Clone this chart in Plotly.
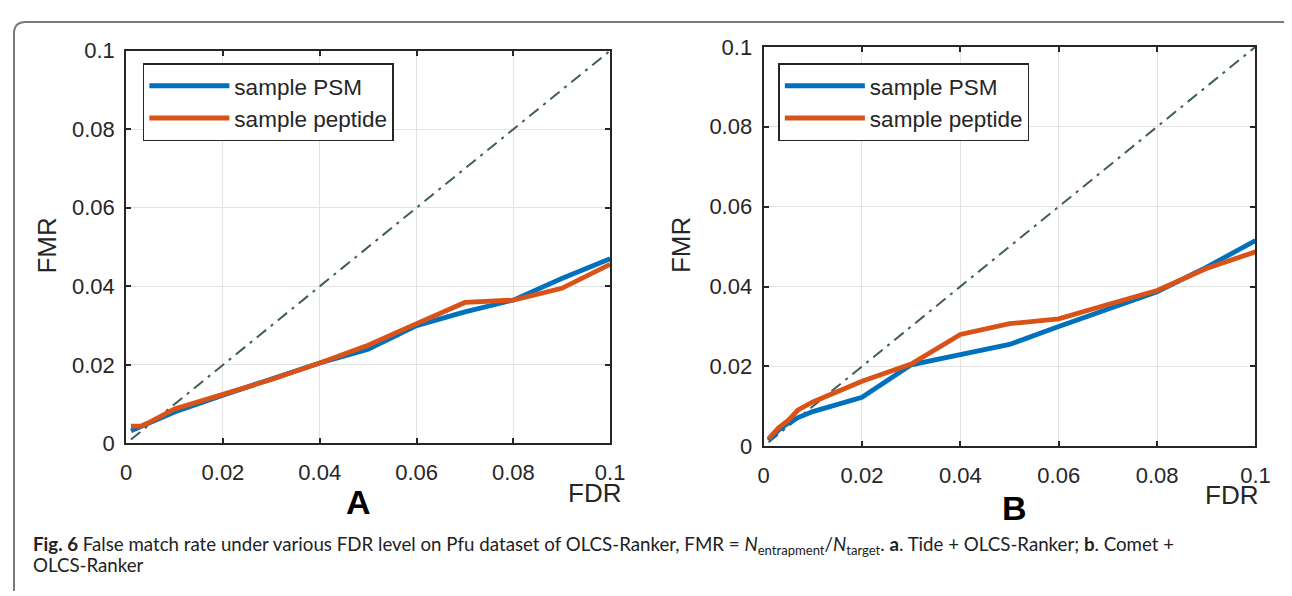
import plotly.graph_objects as go

W, H = 1292, 596
OFF = 8  # page body margin of the html page

# ---------------- data ----------------
fdr_a = [0.001, 0.003, 0.005, 0.01, 0.02, 0.03, 0.04, 0.05, 0.06, 0.07, 0.08, 0.09, 0.1]
psm_a = [0.0032, 0.0042, 0.0055, 0.0080, 0.0123, 0.0165, 0.0205, 0.0240, 0.0300, 0.0335, 0.0365, 0.0420, 0.0470]
pep_a = [0.0044, 0.0044, 0.0055, 0.0088, 0.0125, 0.0163, 0.0205, 0.0250, 0.0305, 0.0359, 0.0365, 0.0395, 0.0456]

fdr_b = [0.001, 0.003, 0.005, 0.007, 0.01, 0.02, 0.03, 0.04, 0.05, 0.06, 0.07, 0.08, 0.09, 0.1]
psm_b = [0.0015, 0.0040, 0.0058, 0.0072, 0.0087, 0.0123, 0.0204, 0.0231, 0.0255, 0.0300, 0.0345, 0.0387, 0.0448, 0.0515]
pep_b = [0.0019, 0.0046, 0.0065, 0.0091, 0.0111, 0.0163, 0.0206, 0.0280, 0.0307, 0.0319, 0.0355, 0.0390, 0.0445, 0.0487]

ref_x = [0.001, 0.1]
ref_y = [0.001, 0.1]

tick_vals = [0, 0.02, 0.04, 0.06, 0.08, 0.1]
tick_text = ["0", "0.02", "0.04", "0.06", "0.08", "0.1"]

series_names = ["sample PSM", "sample peptide"]
panel_labels = ["A", "B"]

BLUE = "#0072BD"
ORANGE = "#D95319"
DIAG = "#3E5E57"
AXC = "#262626"
FONT = "Liberation Sans, Arial, sans-serif"


def px(x):
    return (x - OFF) / W


def py(y):
    return 1 - (y - OFF) / H


fig = go.Figure()

panels = [
    (fdr_a, psm_a, pep_a, "x", "y", "legend"),
    (fdr_b, psm_b, pep_b, "x2", "y2", "legend2"),
]
for fdr, psm, pep, xa, ya, lg in panels:
    fig.add_trace(go.Scatter(x=ref_x, y=ref_y, mode="lines", xaxis=xa, yaxis=ya,
                             line=dict(color=DIAG, width=2, dash="12px,6px,3px,6px"),
                             showlegend=False, hoverinfo="skip"))
    fig.add_trace(go.Scatter(x=fdr, y=psm, mode="lines", name=series_names[0], xaxis=xa, yaxis=ya,
                             line=dict(color=BLUE, width=4.8), legend=lg))
    fig.add_trace(go.Scatter(x=fdr, y=pep, mode="lines", name=series_names[1], xaxis=xa, yaxis=ya,
                             line=dict(color=ORANGE, width=4.8), legend=lg))

axis_common = dict(
    range=[0, 0.1], tickvals=tick_vals, ticktext=tick_text,
    showgrid=True, gridcolor="#E3E3E3", gridwidth=1,
    showline=True, linecolor=AXC, linewidth=2, mirror="ticks",
    ticks="inside", ticklen=5, tickwidth=1.5, tickcolor=AXC,
    zeroline=False, tickfont=dict(family=FONT, size=22, color=AXC),
    fixedrange=True,
)

dom_ax = [px(122), px(614)]
dom_ay = [py(450), py(40)]
dom_bx = [px(770), px(1270)]
dom_by = [py(453), py(36)]

legend_common = dict(xanchor="left", yanchor="top", bordercolor=AXC, borderwidth=1.5,
                     bgcolor="white", font=dict(family=FONT, size=22.5, color=AXC),
                     itemwidth=80, tracegroupgap=0)

fig.update_layout(
    width=W, height=H, autosize=False,
    margin=dict(l=0, r=0, t=0, b=0),
    paper_bgcolor="white", plot_bgcolor="white",
    xaxis=dict(domain=dom_ax, anchor="y", ticklabelstandoff=8, **axis_common),
    yaxis=dict(domain=dom_ay, anchor="x", ticklabelstandoff=5, **axis_common),
    xaxis2=dict(domain=dom_bx, anchor="y2", ticklabelstandoff=8, **axis_common),
    yaxis2=dict(domain=dom_by, anchor="x2", ticklabelstandoff=5, **axis_common),
    legend=dict(x=px(139), y=py(53), **legend_common),
    legend2=dict(x=px(785), y=py(53), **legend_common),
    showlegend=True,
)

annots = []
# FMR labels
for xx in (42, 686):
    annots.append(dict(x=px(xx), y=py(243), xref="paper", yref="paper", text="FMR",
                       textangle=-90, showarrow=False, xanchor="center", yanchor="middle",
                       font=dict(family=FONT, size=26, color=AXC)))
# FDR labels
for xx, yy in ((598, 502), (1246, 504)):
    annots.append(dict(x=px(xx), y=py(yy), xref="paper", yref="paper", text="FDR",
                       showarrow=False, xanchor="center", yanchor="middle",
                       font=dict(family=FONT, size=26, color=AXC)))
# panel letters
for lab, xx, yy in ((panel_labels[0], 358, 511), (panel_labels[1], 1025, 517)):
    annots.append(dict(x=px(xx), y=py(yy), xref="paper", yref="paper", text="<b>%s</b>" % lab,
                       showarrow=False, xanchor="center", yanchor="middle",
                       font=dict(family=FONT, size=34, color="black")))
# caption
CAPF = "Lato, Open Sans, sans-serif"
line1 = ("<b>Fig. 6</b> False match rate under various FDR level on Pfu dataset of OLCS-Ranker, "
         "FMR = <i>N</i><sub>entrapment</sub>/<i>N</i><sub>target</sub>. "
         "<b>a</b>. Tide + OLCS-Ranker; <b>b</b>. Comet +")
line2 = "OLCS-Ranker"
annots.append(dict(x=px(25), y=py(557), xref="paper", yref="paper", text=line1,
                   xanchor="left", yanchor="middle", showarrow=False,
                   font=dict(family=CAPF, size=18.7, color="#222222")))
annots.append(dict(x=px(25), y=py(577), xref="paper", yref="paper", text=line2,
                   xanchor="left", yanchor="middle", showarrow=False,
                   font=dict(family=CAPF, size=18.7, color="#222222")))
fig.update_layout(annotations=annots)

# rounded outer frame (top and left edges)
r = 12
path = "M %f,%f L %f,%f Q %f,%f %f,%f L %f,%f" % (
    px(8), 0.0, px(8), py(10 + r), px(8), py(10), px(8 + r), py(10), 1.0, py(10))
fig.add_shape(type="path", path=path, xref="paper", yref="paper",
              line=dict(color="#7A7A7A", width=2), layer="above")

fig.write_html("out.html")
